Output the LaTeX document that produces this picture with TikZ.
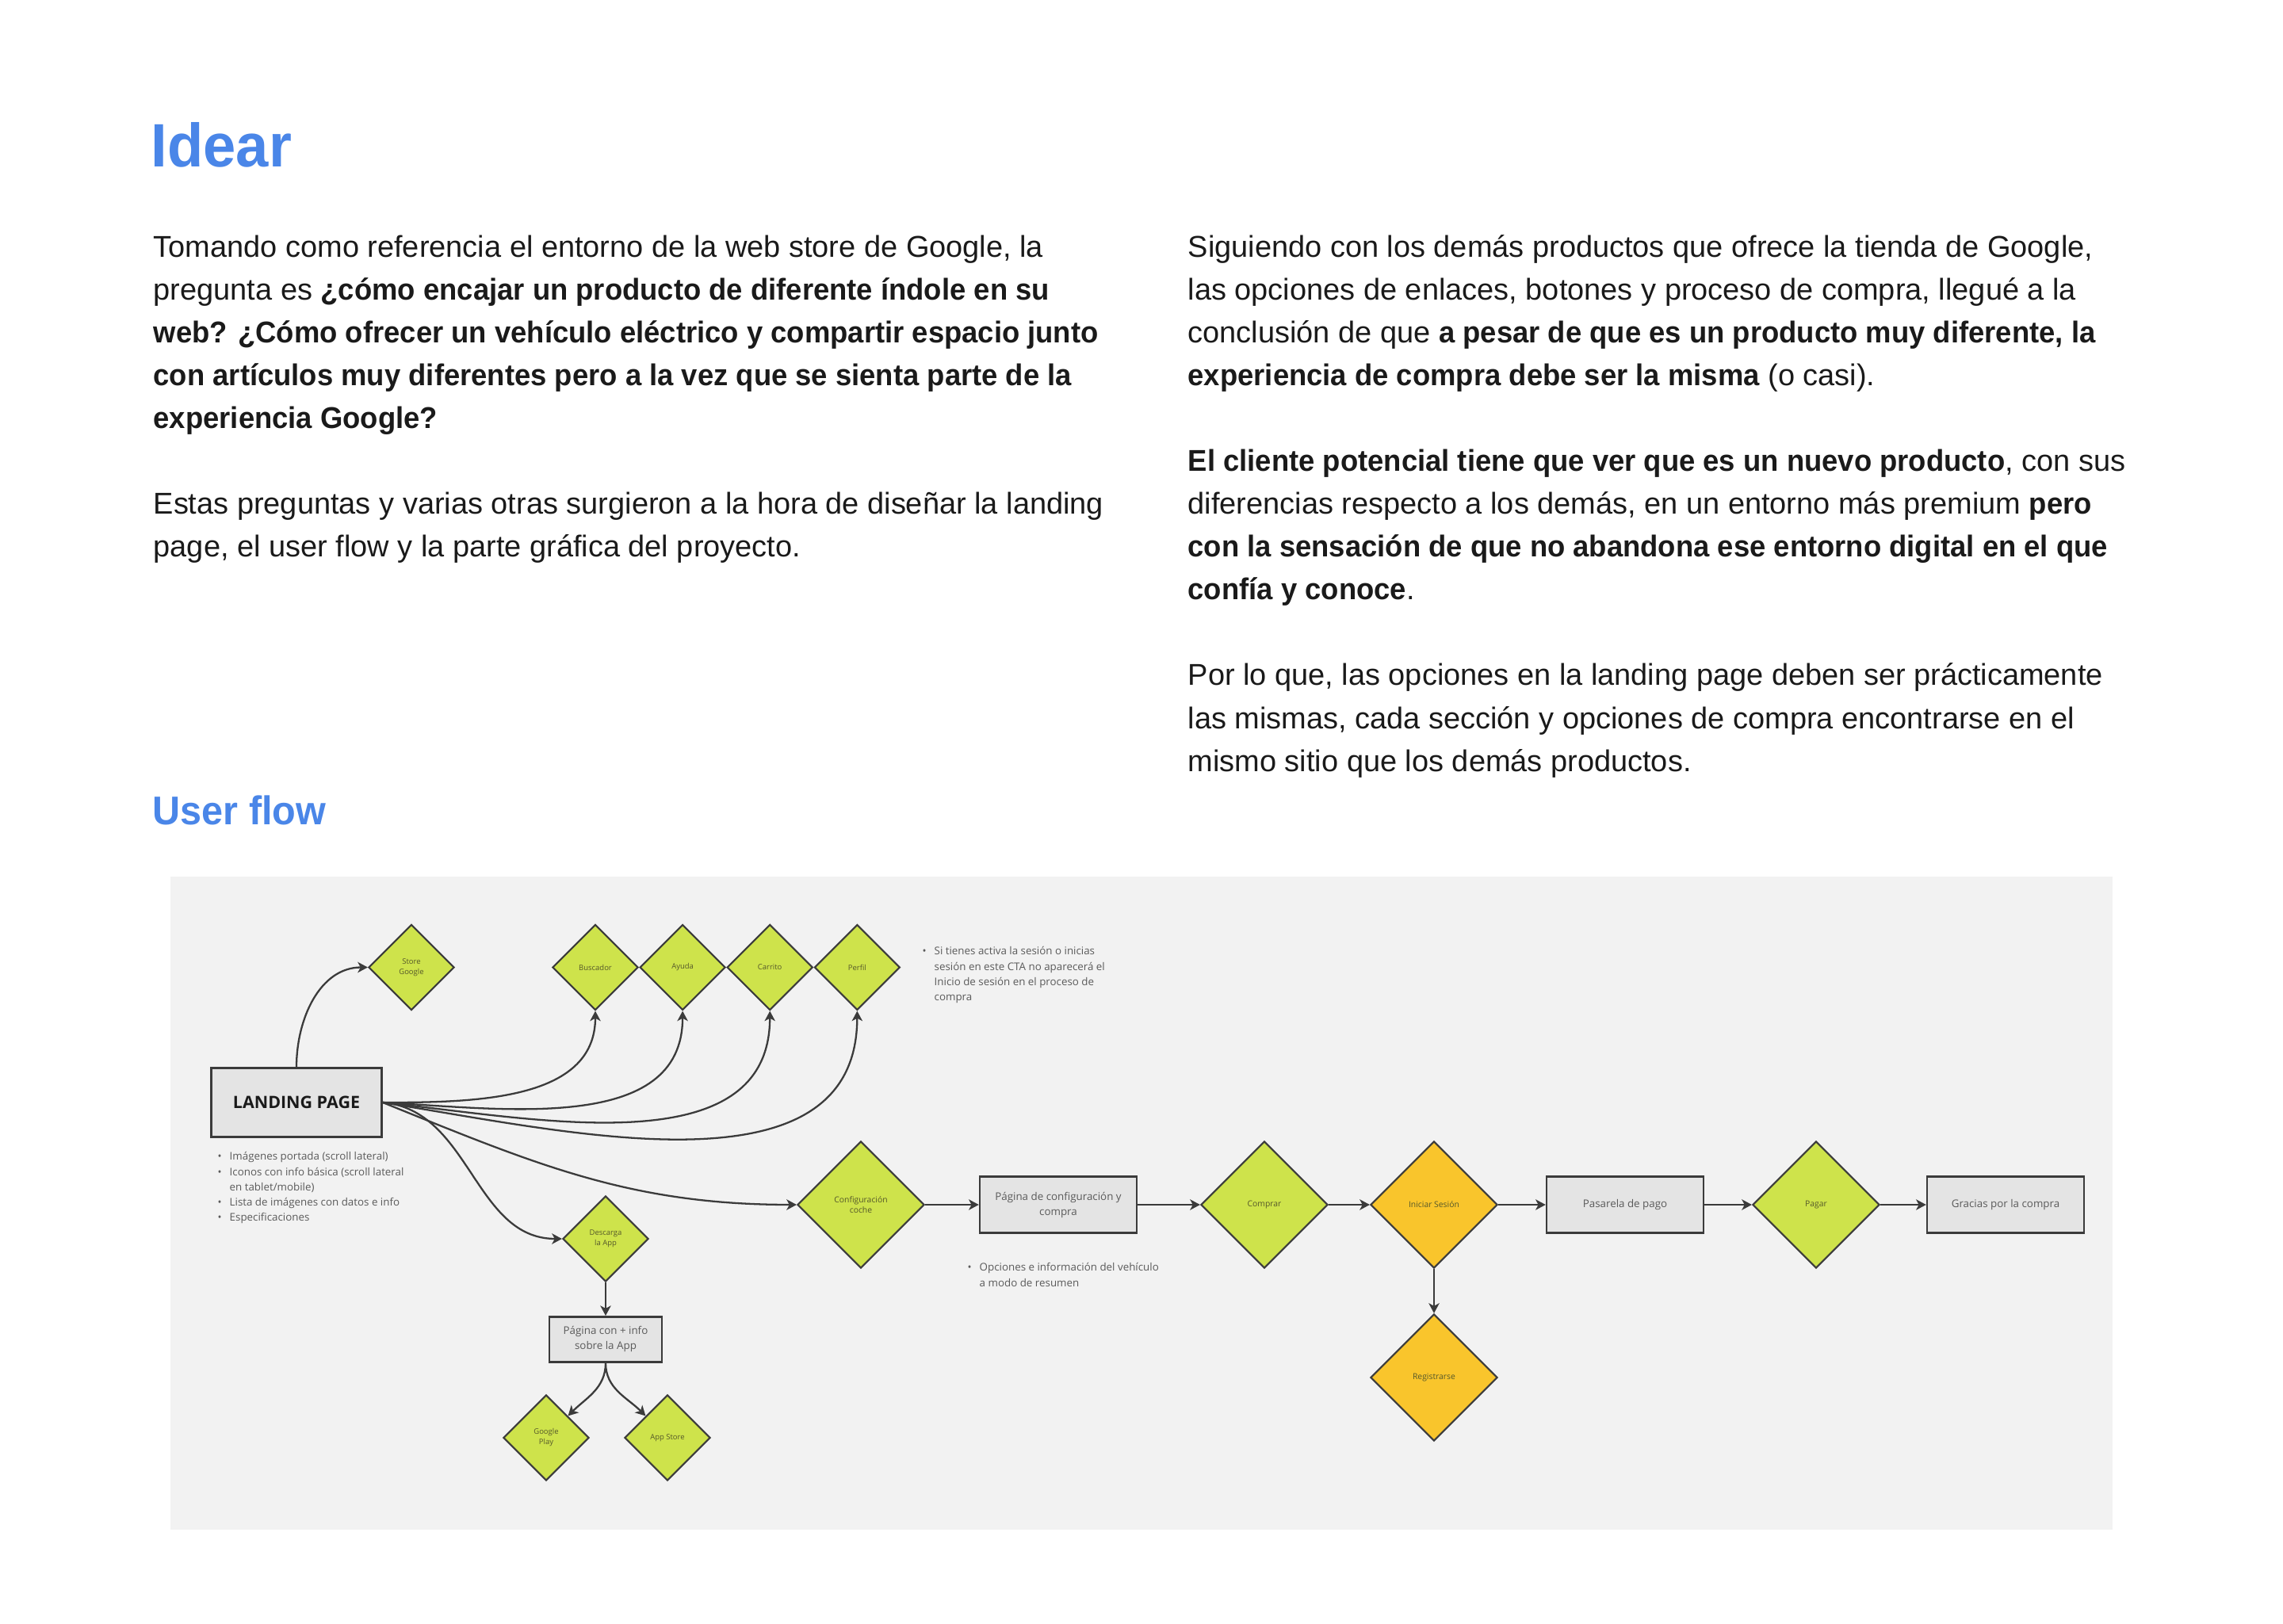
\documentclass[tikz,border=0pt]{standalone}
\usepackage{fontspec}
\setmainfont{Liberation Sans}[BoldFeatures={FakeStretch=0.96}]
\newfontfamily\chartfont{Open Sans}
\usetikzlibrary{shapes.geometric,arrows.meta,positioning}
\definecolor{ink}{HTML}{1A1A1A}
\definecolor{titleblue}{HTML}{4A86E8}
\definecolor{panel}{HTML}{F2F2F2}
\definecolor{edge}{HTML}{3B3B3B}
\definecolor{chartlime}{HTML}{CEE34B}
\definecolor{chartamber}{HTML}{F9C52C}
\definecolor{boxgray}{HTML}{E4E4E4}
\definecolor{labelgray}{HTML}{5A5A5A}
\definecolor{labelolive}{HTML}{55582A}
\newcommand{\flowbullet}{\makebox[0.15cm][l]{\textbullet}}
\tikzset{
  heading/.style={anchor=base west,inner sep=0pt,text=titleblue},
  bodytext/.style={anchor=base west,inner sep=0pt,text=ink,font=\fontsize{10.8}{13}\selectfont},
  choice/.style={diamond,draw=edge,line width=0.6pt,fill=chartlime,minimum width=1.6cm,minimum height=1.6cm,
    inner sep=0pt,align=center,text=labelolive,font=\chartfont\fontsize{2.95}{3.7}\selectfont},
  smallchoice/.style={choice,minimum width=1.08cm,minimum height=1.08cm,font=\chartfont\fontsize{2.7}{3.7}\selectfont},
  login/.style={choice,fill=chartamber},
  screen/.style={rectangle,draw=edge,line width=0.7pt,fill=boxgray,minimum width=1.98cm,minimum height=0.71cm,
    inner sep=0pt,align=center,text=labelgray,font=\chartfont\fontsize{3.8}{5.4}\selectfont},
  remark/.style={anchor=north west,inner sep=0pt,align=left,text=labelgray,font=\chartfont\fontsize{3.8}{5.45}\selectfont},
  link/.style={-{Stealth[length=3.6pt,width=3.8pt,inset=1pt]},line width=0.65pt,draw=edge}
}
\begin{document}
\begin{tikzpicture}
\useasboundingbox[fill=white] (0,0) rectangle (28.8,20.48);

% titulos
\node[heading,font=\bfseries\fontsize{22}{26}\selectfont] (idear) at (1.90,18.37) {Idear};
\node[heading,font=\bfseries\fontsize{14.4}{17}\selectfont] (userflow) at (1.92,10.07) {User flow};

% columna izquierda
\node[bodytext] (t1) at (1.93,17.23) {Tomando como referencia el entorno de la web store de Google, la};
\node[bodytext] (t2) at (1.93,16.69) {pregunta es \textbf{¿cómo encajar un producto de diferente índole en su}};
\node[bodytext] (t3) at (1.93,16.15) {\textbf{web? ¿Cómo ofrecer un vehículo eléctrico y compartir espacio junto}};
\node[bodytext] (t4) at (1.93,15.61) {\textbf{con artículos muy diferentes pero a la vez que se sienta parte de la}};
\node[bodytext] (t5) at (1.93,15.07) {\textbf{experiencia Google?}};
\node[bodytext] (t6) at (1.93,13.99) {Estas preguntas y varias otras surgieron a la hora de diseñar la landing};
\node[bodytext] (t7) at (1.93,13.45) {page, el user flow y la parte gráfica del proyecto.};

% columna derecha
\node[bodytext] (r1) at (14.98,17.23) {Siguiendo con los demás productos que ofrece la tienda de Google,};
\node[bodytext] (r2) at (14.98,16.69) {las opciones de enlaces, botones y proceso de compra, llegué a la};
\node[bodytext] (r3) at (14.98,16.15) {conclusión de que \textbf{a pesar de que es un producto muy diferente, la}};
\node[bodytext] (r4) at (14.98,15.61) {\textbf{experiencia de compra debe ser la misma} (o casi).};
\node[bodytext] (r5) at (14.98,14.53) {\textbf{El cliente potencial tiene que ver que es un nuevo producto}, con sus};
\node[bodytext] (r6) at (14.98,13.99) {diferencias respecto a los demás, en un entorno más premium \textbf{pero}};
\node[bodytext] (r7) at (14.98,13.45) {\textbf{con la sensación de que no abandona ese entorno digital en el que}};
\node[bodytext] (r8) at (14.98,12.91) {\textbf{confía y conoce}.};
\node[bodytext] (r9) at (14.98,11.83) {Por lo que, las opciones en la landing page deben ser prácticamente};
\node[bodytext] (r10) at (14.98,11.29) {las mismas, cada sección y opciones de compra encontrarse en el};
\node[bodytext] (r11) at (14.98,10.75) {mismo sitio que los demás productos.};

% diagrama
\fill[panel] (2.15,1.18) rectangle (26.65,9.42);

\node[rectangle,draw=edge,line width=0.8pt,fill=boxgray,minimum width=2.15cm,minimum height=0.87cm,
  text=ink,font=\chartfont\bfseries\fontsize{6.1}{7}\selectfont] (landing) at (3.74,6.57) {LANDING PAGE};
\node[remark] (lpnotes) at (2.74,5.95) {\flowbullet Imágenes portada (scroll lateral)\\
  \flowbullet Iconos con info básica (scroll lateral\\
  \hspace*{0.15cm}en tablet/mobile)\\
  \flowbullet Lista de imágenes con datos e info\\
  \flowbullet Especificaciones};

\node[smallchoice] (store) at (5.19,8.275) {Store\\Google};
\node[smallchoice] (buscador) at (7.51,8.275) {Buscador};
\node[smallchoice] (ayuda) [right=0pt of buscador] {Ayuda};
\node[smallchoice] (carrito) [right=0pt of ayuda] {Carrito};
\node[smallchoice] (perfil) [right=0pt of carrito] {Perfil};
\node[remark] (ctanote) at (11.63,8.54) {\flowbullet Si tienes activa la sesión o inicias\\
  \hspace*{0.15cm}sesión en este CTA no aparecerá el\\
  \hspace*{0.15cm}Inicio de sesión en el proceso de\\
  \hspace*{0.15cm}compra};

\node[smallchoice] (descarga) at (7.64,4.85) {Descarga\\la App};
\node[screen,minimum width=1.42cm,minimum height=0.57cm] (infoapp) [below=0.42cm of descarga] {Página con + info\\sobre la App};
\node[smallchoice] (gplay) at (6.89,2.34) {Google\\Play};
\node[smallchoice] (appstore) at (8.42,2.34) {App Store};

\node[choice] (config) at (10.86,5.28) {Configuración\\coche};
\node[screen] (pagconf) at (13.35,5.28) {Página de configuración y\\compra};
\node[remark] (confnote) at (12.20,4.55) {\flowbullet Opciones e información del vehículo\\
  \hspace*{0.15cm}a modo de resumen};
\node[choice] (comprar) at (15.95,5.28) {Comprar};
\node[login] (sesion) at (18.09,5.28) {Iniciar Sesión};
\node[login] (registro) at (18.09,3.10) {Registrarse};
\node[screen] (pasarela) at (20.50,5.28) {Pasarela de pago};
\node[choice] (pagar) at (22.91,5.28) {Pagar};
\node[screen] (gracias) at (25.30,5.28) {Gracias por la compra};

% conexiones
\draw[link] (landing.north) to[out=90,in=180] (store.west);
\draw[link] (landing.east) to[out=0,in=-90] (buscador.south);
\draw[link] (landing.east) to[out=-3,in=-90] (ayuda.south);
\draw[link] (landing.east) to[out=-6,in=-90] (carrito.south);
\draw[link] (landing.east) to[out=-9,in=-90] (perfil.south);
\draw[link] (landing.east) to[out=-22,in=180] (config.west);
\draw[link] (landing.east) to[out=-5,in=180] (descarga.west);
\draw[link] (descarga) -- (infoapp);
\draw[link] (infoapp.south) to[out=-90,in=45] (gplay.north east);
\draw[link] (infoapp.south) to[out=-90,in=135] (appstore.north west);
\draw[link] (config) -- (pagconf);
\draw[link] (pagconf) -- (comprar);
\draw[link] (comprar) -- (sesion);
\draw[link] (sesion) -- (registro);
\draw[link] (sesion) -- (pasarela);
\draw[link] (pasarela) -- (pagar);
\draw[link] (pagar) -- (gracias);
\end{tikzpicture}
\end{document}
